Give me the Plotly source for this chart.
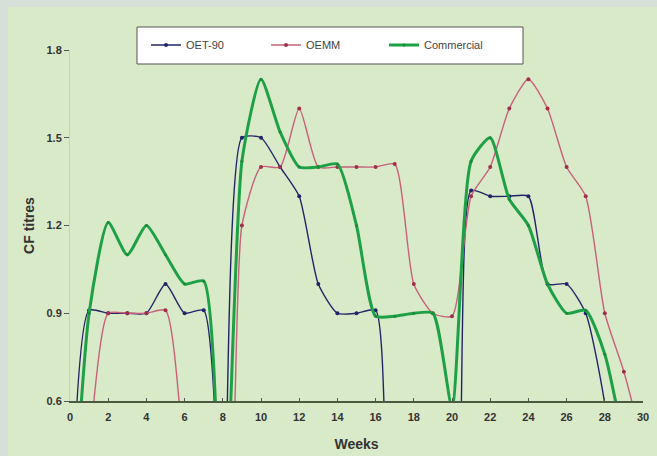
import plotly.graph_objects as go

weeks = list(range(0, 31))

oet90 = [0, 0.91, 0.9, 0.9, 0.9, 1.0, 0.9, 0.91, 0, 1.5, 1.5, 1.4, 1.3, 1.0, 0.9, 0.9, 0.91,
         0, 0, 0, 0, 1.32, 1.3, 1.3, 1.3, 1.0, 1.0, 0.9, 0.59, 0, 0]
oemm = [0, 0.45, 0.9, 0.9, 0.9, 0.91, 0.4, 0, 0, 1.2, 1.4, 1.4, 1.6, 1.4, 1.4, 1.4, 1.4,
        1.41, 1.0, 0.9, 0.89, 1.3, 1.4, 1.6, 1.7, 1.6, 1.4, 1.3, 0.9, 0.7, 0.45]
commercial = [0, 0.9, 1.21, 1.1, 1.2, 1.1, 1.0, 1.01, 0, 1.42, 1.7, 1.52, 1.4, 1.4, 1.41, 1.2, 0.89,
              0.89, 0.9, 0.9, 0.58, 1.42, 1.5, 1.29, 1.2, 1.0, 0.9, 0.91, 0.76, 0.45, 0]

series_names = ["OET-90", "OEMM", "Commercial"]
x_ticks = list(range(0, 31, 2))
y_ticks = [0.6, 0.9, 1.2, 1.5, 1.8]
y_tick_text = ["0.6", "0.9", "1.2", "1.5", "1.8"]

L, R, T, B = 70, 14, 50, 55
W, H = 657, 456
pw, ph = W - L - R, H - T - B

def px_x(px):
    return (px - L) / pw

def px_y(py):
    return (H - B - py) / ph

SM = 0.6
fig = go.Figure()
fig.add_trace(go.Scatter(x=weeks, y=oet90, name=series_names[0], mode="lines+markers",
                         line=dict(color="#22246a", width=1.4, shape="spline", smoothing=SM),
                         marker=dict(size=4, color="#22246a"), legend="legend"))
fig.add_trace(go.Scatter(x=weeks, y=oemm, name=series_names[1], mode="lines+markers",
                         line=dict(color="#c8607a", width=1.4, shape="spline", smoothing=SM),
                         marker=dict(size=4, color="#a0304a"), legend="legend2"))
fig.add_trace(go.Scatter(x=weeks, y=commercial, name=series_names[2], mode="lines+markers",
                         line=dict(color="#1ea046", width=3, shape="spline", smoothing=SM),
                         marker=dict(size=3, color="#1a8a3c"), legend="legend3"))

# green panel
fig.add_shape(type="rect", xref="paper", yref="paper",
              x0=px_x(8), x1=px_x(660), y0=px_y(460), y1=px_y(7),
              fillcolor="#d9eac8", line=dict(width=0), layer="below")
# legend box
fig.add_shape(type="rect", xref="paper", yref="paper",
              x0=px_x(137), x1=px_x(523), y0=px_y(64), y1=px_y(27),
              fillcolor="white", line=dict(width=1, color="#555555"), layer="below")

leg_common = dict(orientation="h", yanchor="middle", xanchor="left", y=px_y(45),
                  bgcolor="rgba(0,0,0,0)", borderwidth=0, itemwidth=30,
                  font=dict(size=11, color="#444444"))

fig.update_layout(
    width=W, height=H,
    margin=dict(l=L, r=R, t=T, b=B),
    paper_bgcolor="#d6dfd8",
    plot_bgcolor="rgba(0,0,0,0)",
    font=dict(family="Liberation Sans, Arial, sans-serif", color="#333333", size=11),
    showlegend=True,
    legend=dict(x=px_x(188 - 42), **leg_common),
    legend2=dict(x=px_x(308 - 42), **leg_common),
    legend3=dict(x=px_x(426 - 42), **leg_common),
    xaxis=dict(range=[0, 30], tickmode="array", tickvals=x_ticks, ticks="inside", ticklen=3,
               tickcolor="#555555", showgrid=False, zeroline=False, showline=True,
               linecolor="#4a5a40", linewidth=1.5, ticklabelstandoff=5, automargin=False,
               tickfont=dict(size=11, color="#333333", weight="bold"),
               title=dict(text="<b>Weeks</b>", font=dict(size=14, color="#333333"), standoff=17)),
    yaxis=dict(range=[0.6, 1.8], tickmode="array", tickvals=y_ticks, ticktext=y_tick_text,
               ticks="outside", ticklen=5, tickcolor="#555555", showgrid=False, zeroline=False,
               showline=True, linecolor="#c8d4c0", linewidth=1, automargin=False,
               tickfont=dict(size=11, color="#333333", weight="bold"),
               title=dict(text="<b>CF titres</b>", font=dict(size=14, color="#333333"), standoff=8)),
)

fig.write_html("out.html", config={"displayModeBar": False},
               post_script="document.body.style.margin='0px';document.body.style.background='#d6dfd8';")
